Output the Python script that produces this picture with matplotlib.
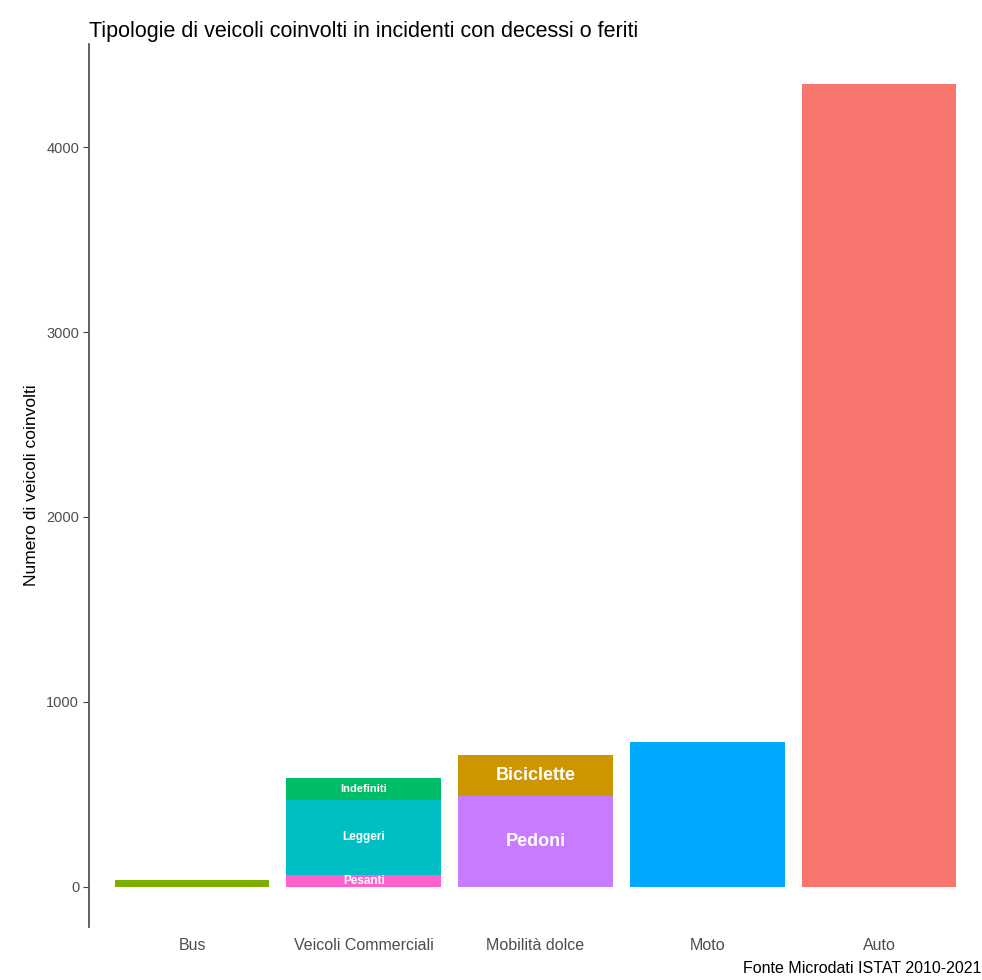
import numpy as np
import matplotlib
matplotlib.use("Agg")
import matplotlib.pyplot as plt

plt.rcParams["font.family"] = ["Liberation Sans", "DejaVu Sans"]

# categories on the x axis
categories = ["Bus", "Veicoli Commerciali", "Mobilità dolce", "Moto", "Auto"]

# stacked segments: (category, segment name, value), bottom to top
seg_category = ["Bus", "Veicoli Commerciali", "Veicoli Commerciali", "Veicoli Commerciali",
                "Mobilità dolce", "Mobilità dolce", "Moto", "Auto"]
seg_name = ["Bus", "Pesanti", "Leggeri", "Indefiniti",
            "Pedoni", "Biciclette", "Moto", "Auto"]
seg_value = [36, 63, 406, 117, 490, 222, 784, 4343]

# segments that carry a text label inside
label_names = ["Pesanti", "Leggeri", "Indefiniti", "Pedoni", "Biciclette"]
label_sizes = [8.5, 8.5, 8, 13, 13]

colors = {
    "Auto": "#F8766D", "Biciclette": "#CD9600", "Bus": "#7CAE00",
    "Indefiniti": "#00BE67", "Leggeri": "#00BFC4", "Moto": "#00A9FF",
    "Pedoni": "#C77CFF", "Pesanti": "#FF61CC",
}

fig = plt.figure(figsize=(9.82, 9.80), dpi=100)
ax = fig.add_axes([0.0906, 0.0543, 0.9094, 0.901])

bottoms = {c: 0.0 for c in categories}
for cat, name, val in zip(seg_category, seg_name, seg_value):
    x = categories.index(cat)
    b = bottoms[cat]
    ax.bar(x, val, bottom=b, width=0.9, color=colors[name], linewidth=0)
    if name in label_names:
        size = label_sizes[label_names.index(name)]
        ax.text(x, b + val / 2, name, ha="center", va="center",
                color="white", fontsize=size, fontweight="bold")
    bottoms[cat] = b + val

ymax = max(bottoms.values())
ax.set_xlim(-0.6, len(categories) - 0.4)
ax.set_ylim(-0.05 * ymax, ymax * 1.05)

ax.set_xticks(range(len(categories)))
ax.set_xticklabels(categories)
ax.set_yticks([0, 1000, 2000, 3000, 4000])
ax.tick_params(axis="x", length=0, pad=8, labelsize=11.5, labelcolor="#4d4d4d")
ax.tick_params(axis="y", length=4, width=0.8, color="#444444",
               labelsize=10.5, labelcolor="#4d4d4d", pad=3)

for s in ["top", "right", "bottom"]:
    ax.spines[s].set_visible(False)
ax.spines["left"].set_color("#555555")
ax.spines["left"].set_linewidth(1.3)

ax.set_ylabel("Numero di veicoli coinvolti", fontsize=12.5, labelpad=5)
ax.set_title("Tipologie di veicoli coinvolti in incidenti con decessi o feriti",
             loc="left", fontsize=15.5, pad=5)
fig.text(0.9995, 0.004, "Fonte Microdati ISTAT 2010-2021", ha="right",
         va="bottom", fontsize=11.5)

fig.savefig("out.png", dpi=100, facecolor="white")
